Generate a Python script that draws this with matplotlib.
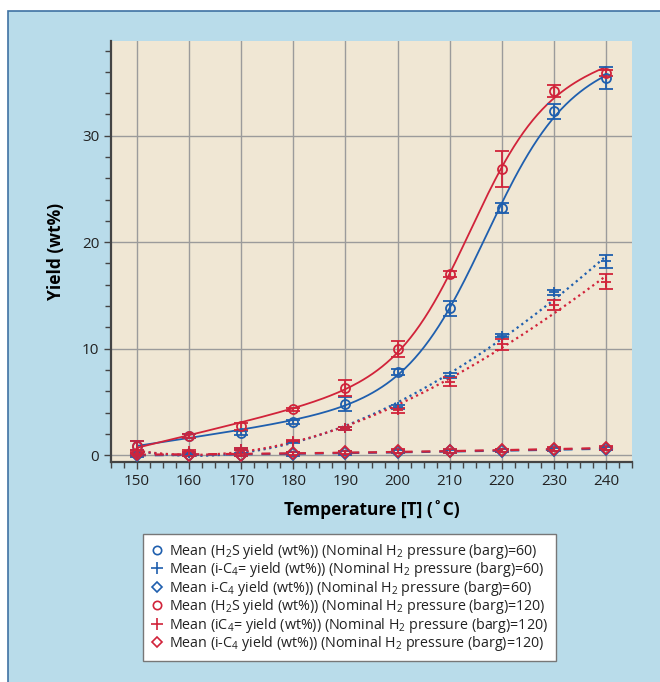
import numpy as np
import matplotlib
matplotlib.use("Agg")
import matplotlib.pyplot as plt
from matplotlib.lines import Line2D
from matplotlib.patches import Rectangle

plt.rcParams['font.family'] = ['Open Sans', 'DejaVu Sans']
plt.rcParams['mathtext.fontset'] = 'custom'
plt.rcParams['mathtext.rm'] = 'Open Sans'

# mean yields (wt%) at each reactor temperature, with error bar half-widths
temps = [150, 160, 170, 180, 190, 200, 210, 220, 230, 240]

h2s_60 = [0.9, 1.8, 2.1, 3.1, 4.8, 7.8, 13.8, 23.2, 32.3, 35.4]
h2s_60_err = [0.4, 0.2, 0.2, 0.2, 0.7, 0.3, 0.7, 0.5, 0.7, 1.05]
h2s_120 = [0.9, 1.8, 2.7, 4.3, 6.3, 9.95, 17.0, 26.9, 34.2, 35.9]
h2s_120_err = [0.4, 0.2, 0.3, 0.15, 0.75, 0.75, 0.3, 1.7, 0.6, 0.3]

ic4e_60 = [0.1, 0.2, 0.6, 1.2, 2.5, 4.5, 7.45, 11.2, 15.3, 18.2]
ic4e_60_err = [0.1, 0.1, 0.1, 0.1, 0.15, 0.2, 0.25, 0.15, 0.25, 0.6]
ic4e_120 = [0.1, 0.35, 0.6, 1.35, 2.5, 4.2, 6.9, 10.4, 14.1, 16.3]
ic4e_120_err = [0.1, 0.1, 0.1, 0.1, 0.15, 0.2, 0.45, 0.5, 0.5, 0.7]

ic4_60 = [0.0, 0.0, 0.05, 0.1, 0.2, 0.3, 0.35, 0.4, 0.5, 0.6]
ic4_60_err = [0.15, 0.1, 0.1, 0.15, 0.15, 0.15, 0.15, 0.15, 0.15, 0.15]
ic4_120 = [0.1, 0.05, 0.0, 0.15, 0.25, 0.35, 0.4, 0.45, 0.55, 0.65]
ic4_120_err = [0.15, 0.1, 0.1, 0.15, 0.15, 0.2, 0.2, 0.15, 0.2, 0.2]

legend_labels = [
    r"Mean (H$_2$S yield (wt%)) (Nominal H$_2$ pressure (barg)=60)",
    r"Mean (i-C$_4$= yield (wt%)) (Nominal H$_2$ pressure (barg)=60)",
    r"Mean i-C$_4$ yield (wt%)) (Nominal H$_2$ pressure (barg)=60)",
    r"Mean (H$_2$S yield (wt%)) (Nominal H$_2$ pressure (barg)=120)",
    r"Mean (iC$_4$= yield (wt%)) (Nominal H$_2$ pressure (barg)=120)",
    r"Mean (i-C$_4$ yield (wt%)) (Nominal H$_2$ pressure (barg)=120)",
]

BLUE = "#1f5fae"
RED = "#d1233a"


def poly_curve(x, y, deg):
    x = np.asarray(x, float)
    coef = np.polyfit(x, y, deg)
    xs = np.linspace(x.min(), x.max(), 200)
    return xs, np.polyval(coef, xs)


def sigmoid_curve(x, y):
    # logistic step on a linear baseline; centre and width found by grid search,
    # the linear terms by least squares
    x = np.asarray(x, float)
    y = np.asarray(y, float)
    best = None
    for x0 in np.arange(195, 245, 0.5):
        for s in np.arange(3, 25, 0.25):
            g = 1 / (1 + np.exp(-(x - x0) / s))
            M = np.column_stack([np.ones_like(x), x - 150, g])
            coef, *_ = np.linalg.lstsq(M, y, rcond=None)
            r = np.sum((M @ coef - y) ** 2)
            if best is None or r < best[0]:
                best = (r, x0, s, coef)
    _, x0, s, coef = best
    xs = np.linspace(x.min(), x.max(), 200)
    g = 1 / (1 + np.exp(-(xs - x0) / s))
    return xs, coef[0] + coef[1] * (xs - 150) + coef[2] * g


fig = plt.figure(figsize=(6.6, 6.82), dpi=100, facecolor="white")
panel = Rectangle((8 / 660, -0.01), 1.0, 1 - 11 / 682 + 0.01, transform=fig.transFigure,
                  facecolor="#b9dcea", edgecolor="#3f72a3", linewidth=1.2, zorder=-5)
fig.patches.append(panel)

ax = fig.add_axes([111 / 660, 1 - 462 / 682, 521 / 660, 421 / 682])
ax.set_facecolor("#f0e7d4")

series = [
    (h2s_60, h2s_60_err, BLUE, "o", "-"),
    (ic4e_60, ic4e_60_err, BLUE, "+", (0, (1, 1.6))),
    (ic4_60, ic4_60_err, BLUE, "D", (0, (4, 4))),
    (h2s_120, h2s_120_err, RED, "o", "-"),
    (ic4e_120, ic4e_120_err, RED, "+", (0, (1, 1.6))),
    (ic4_120, ic4_120_err, RED, "D", (0, (4, 4))),
]

for vals, err, col, mk, ls in series:
    if mk == "o":
        xs, ys = sigmoid_curve(temps, vals)
    elif mk == "+":
        xs, ys = poly_curve(temps, vals, 3)
    else:
        xs, ys = poly_curve(temps, vals, 2)
    lw = 1.3 if ls == "-" else 1.6
    ax.plot(xs, ys, color=col, linestyle=ls, linewidth=lw, zorder=3)
    ms = 7 if mk == "+" else (6 if mk == "D" else 6.5)
    ax.errorbar(temps, vals, yerr=err, fmt=mk, mfc="none", mec=col, mew=1.3, ms=ms,
                ecolor=col, elinewidth=1.3, capsize=5, capthick=1.3, zorder=4)

ax.set_xlim(145, 245)
ax.set_ylim(-0.65, 38.9)
ax.set_xticks(np.arange(150, 241, 10))
ax.set_xticks(np.arange(145, 245.1, 2.5), minor=True)
ax.set_yticks([0, 10, 20, 30])
ax.set_yticks(np.arange(0, 39, 2), minor=True)
ax.grid(True, which="major", color="#9b9b9b", linewidth=1.0, zorder=1)
ax.set_axisbelow(True)

for side in ("top", "right"):
    ax.spines[side].set_visible(False)
for side in ("left", "bottom"):
    ax.spines[side].set_color("#444444")
    ax.spines[side].set_linewidth(1.6)

ax.tick_params(which="major", length=5, width=1.0, color="#444444", labelsize=11,
               labelcolor="#222222")
ax.tick_params(which="minor", length=4, width=1.0, color="#444444")

ax.set_xlabel("Temperature [T] (˚C)", fontsize=12.5, fontweight="bold", labelpad=8)
ax.set_ylabel("Yield (wt%)", fontsize=12.5, fontweight="bold", labelpad=12)

handles = []
for vals, err, col, mk, ls in series:
    ms = 8 if mk == "+" else (5.5 if mk == "D" else 6)
    handles.append(Line2D([], [], linestyle="none", marker=mk, mfc="none", mec=col,
                          mew=1.2, ms=ms))

leg = fig.legend(handles, legend_labels, loc="upper left",
                 bbox_to_anchor=(143 / 660, 1 - 534 / 682), fontsize=10.3,
                 frameon=True, fancybox=False, borderpad=0.55, labelspacing=-0.04,
                 handlelength=0.8, handletextpad=0.5, borderaxespad=0,
                 framealpha=1.0, facecolor="white")
leg.get_frame().set_edgecolor("#777777")
leg.get_frame().set_linewidth(1.0)
for t in leg.get_texts():
    t.set_color("#222222")

fig.savefig("out.png", dpi=100, facecolor="white")
